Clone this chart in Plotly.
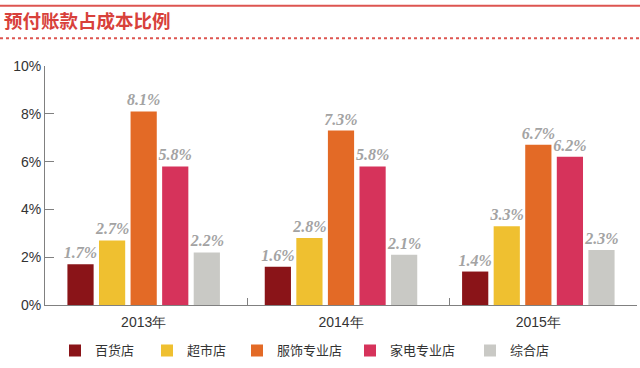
import plotly.graph_objects as go

years = ["2013年", "2014年", "2015年"]
series_names = ["百货店", "超市店", "服饰专业店", "家电专业店", "综合店"]
dept_store = [1.7, 1.6, 1.4]
supermarket = [2.7, 2.8, 3.3]
apparel = [8.1, 7.3, 6.7]
appliance = [5.8, 5.8, 6.2]
general = [2.2, 2.1, 2.3]
y_ticks = [0, 2, 4, 6, 8, 10]
y_tick_labels = ["0%", "2%", "4%", "6%", "8%", "10%"]

series_values = [dept_store, supermarket, apparel, appliance, general]
colors = ["#8a1418", "#efc030", "#e36a26", "#d6335b", "#c9c9c5"]
legend_square_px = [75, 167, 257, 370, 490]  # legend swatch centres (px)

W, H = 640, 368
L, R, T, B = 45, 3, 66, 60
pw = W - L - R
ph = H - T - B

fig = go.Figure()
xpos = list(range(len(years)))
legend_layouts = {}
for i, (name, vals, c) in enumerate(zip(series_names, series_values, colors)):
    lg = "legend" if i == 0 else f"legend{i + 1}"
    fig.add_trace(go.Bar(
        x=xpos, y=vals, name=name, marker=dict(color=c, line=dict(width=0)),
        text=[f"{v:.1f}%" for v in vals], textposition="outside",
        constraintext="none", legend=lg,
        textfont=dict(family="Liberation Serif", size=16, color="#a3a3a3", style="italic", weight="bold"),
        cliponaxis=False,
    ))
    legend_layouts[lg] = dict(
        orientation="h", x=(legend_square_px[i] - 20 - L) / pw, xanchor="left",
        y=(308 - 354) / ph, yanchor="middle",
        font=dict(family="Noto Sans CJK SC", size=13, color="#333333"),
        itemwidth=30, bgcolor="rgba(0,0,0,0)")

# invisible trace to carry the secondary x axis (group boundary ticks + baseline)
fig.add_trace(go.Scatter(x=[0.5], y=[0], xaxis="x2", mode="markers",
                         marker=dict(opacity=0), showlegend=False, hoverinfo="skip"))

base_frac = (623 - L) / pw
fig.update_layout(
    width=W, height=H, autosize=False,
    margin=dict(l=L, r=R, t=T, b=B),
    paper_bgcolor="white", plot_bgcolor="white",
    barmode="group", bargap=0.2, bargroupgap=0.17,
    font=dict(family="Liberation Sans, Arial, sans-serif", color="#333333"),
    title=dict(text="预付账款占成本比例", xref="container", yref="container",
               x=4 / W, xanchor="left", y=1 - 22 / H, yanchor="middle",
               pad=dict(l=0, r=0, t=0, b=0),
               font=dict(family="Noto Sans CJK SC", size=18.5, color="#d8413b", weight="bold")),
    xaxis=dict(range=[-0.5, 2.5], tickvals=xpos, ticktext=years, ticks="",
               showline=False, showgrid=False, zeroline=False,
               tickfont=dict(family="Liberation Sans, Arial", size=14, color="#333333"),
               ticklabelstandoff=7),
    xaxis2=dict(overlaying="x", anchor="y", side="bottom", domain=[0, base_frac],
                range=[-0.5, -0.5 + 3 * base_frac], tickvals=[0.5, 1.5],
                ticks="inside", ticklen=7, tickcolor="#808080", showticklabels=False,
                showline=True, linecolor="#808080", linewidth=1,
                showgrid=False, zeroline=False),
    yaxis=dict(range=[0, 10], tickvals=y_ticks, ticktext=y_tick_labels,
               ticks="inside", ticklen=9, tickcolor="#808080",
               showline=True, linecolor="#808080", linewidth=1,
               showgrid=False, zeroline=False,
               tickfont=dict(family="Liberation Sans, Arial", size=14, color="#333333")),
    showlegend=True,
    **legend_layouts,
)

# header decorations: solid red rule at top, dotted red rule under the title
fig.add_shape(type="line", xref="paper", yref="paper",
              x0=-L / pw, x1=(W - L) / pw, y0=(308 - 5) / ph, y1=(308 - 5) / ph,
              line=dict(color="#dd5550", width=2))
fig.add_shape(type="line", xref="paper", yref="paper",
              x0=-L / pw, x1=(W - L) / pw, y0=(308 - 38) / ph, y1=(308 - 38) / ph,
              line=dict(color="#dd5550", width=2, dash="dot"))

fig.write_html("out.html", config={"displayModeBar": False},
               post_script="document.body.style.margin='0';document.body.style.overflow='hidden';")
